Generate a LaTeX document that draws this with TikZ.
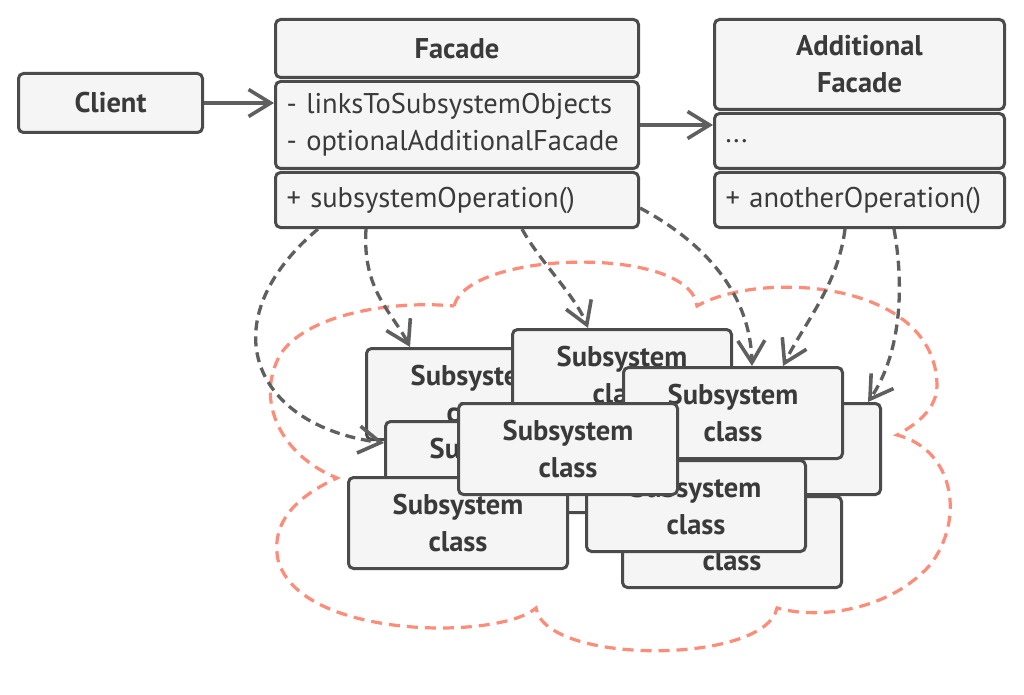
\documentclass[tikz,border=0pt]{standalone}
\usepackage{fontspec}
\setmainfont{PT Sans}
\usetikzlibrary{positioning}
\usetikzlibrary{arrows.meta}

\definecolor{boxline}{RGB}{75,75,75}
\definecolor{boxfill}{RGB}{245,245,245}
\definecolor{linkgray}{RGB}{95,95,95}
\definecolor{cloudred}{RGB}{255,140,120}
\definecolor{textgray}{RGB}{58,58,58}

\begin{document}
\begin{tikzpicture}[x=1pt, y=-1pt,
    box/.style={draw=boxline, fill=boxfill, line width=3pt, rounded corners=5pt, inner sep=0pt, text=textgray, font=\fontsize{28.5}{37}\selectfont},
    title/.style={box, font=\fontsize{28.5}{37}\selectfont\bfseries, align=center},
    field/.style={box, align=left, inner xsep=11pt},
    subbox/.style={title, anchor=north west, minimum width=219pt, minimum height=91pt},
    assoc/.style={draw=linkgray, line width=3.3pt, -{Straight Barb[length=22pt,width=27pt,line width=3.6pt]}},
    depend/.style={assoc, dash pattern=on 10pt off 6pt},
    cloud/.style={draw=cloudred, line width=3.2pt, dash pattern=on 11pt off 7pt}
  ]
    \path[use as bounding box, fill=white] (0,0) rectangle (1024,695);

    % Subsystem cloud
    \draw[cloud] (454,306) .. controls (468,250) and (690,245) .. (697,306)
        .. controls (760,270) and (935,280) .. (937,385)
        .. controls (937,410) and (915,425) .. (897,435)
        .. controls (955,450) and (965,520) .. (930,565)
        .. controls (890,610) and (820,620) .. (777,608)
        .. controls (765,665) and (545,665) .. (536,608)
        .. controls (500,640) and (300,640) .. (278,560)
        .. controls (270,520) and (300,495) .. (337,478)
        .. controls (280,455) and (255,400) .. (280,355)
        .. controls (305,315) and (390,300) .. (454,306);

    % Client
    \node[title, anchor=north west, minimum width=184pt, minimum height=59pt] (client) at (17,72) {Client};

    % Facade
    \node[title, anchor=north west, minimum width=363pt, minimum height=58pt] (facadehead) at (274,18) {Facade};
    \node[field, text width=341pt, minimum height=87pt, below=1pt of facadehead] (facadeattr) {- linksToSubsystemObjects\\- optionalAdditionalFacade};
    \node[field, text width=341pt, minimum height=55pt, below=1pt of facadeattr] (facadeop) {+ subsystemOperation()};

    % Additional facade
    \node[title, anchor=north west, minimum width=290pt, minimum height=90pt] (addhead) at (713,18) {Additional\\Facade};
    \node[field, text width=268pt, minimum height=55pt, below=1pt of addhead] (addattr) {...};
    \node[field, text width=268pt, minimum height=55pt, below=1pt of addattr] (addop) {+ anotherOperation()};

    % Subsystem classes
    \foreach \n/\x/\y in {subA/365/347, subB/511/328, subC/384/420, subD/660/402, subE/622/366,
                          subG/347/476, subH/621/495, subI/585/459, subF/457/402}
        \node[subbox] (\n) at (\x,\y) {Subsystem\\class};

    % Associations
    \draw[assoc] (client.east) -- (client.east -| facadeattr.west);
    \draw[assoc] (facadeattr.east) -- (facadeattr.east -| addattr.west);

    % Dependencies
    \draw[depend] ([xshift=44pt]facadeop.south west) .. controls (210,320) and (250,425) .. ([yshift=24pt]subC.west);
    \draw[depend] ([xshift=92pt]facadeop.south west) .. controls (362,290) and (392,312) .. ([xshift=45pt]subA.north west);
    \draw[depend] ([xshift=248pt]facadeop.south west) .. controls (540,262) and (575,295) .. ([xshift=77pt]subB.north west);
    \draw[depend] ([yshift=-8pt]facadeop.east) .. controls (700,240) and (750,290) .. ([xshift=130pt]subE.north west);
    \draw[depend] ([xshift=132pt]addop.south west) .. controls (838,285) and (805,322) .. ([xshift=161pt]subE.north west);
    \draw[depend] ([xshift=181pt]addop.south west) .. controls (905,290) and (900,355) .. ([xshift=208pt]subD.north west);

\end{tikzpicture}
\end{document}
